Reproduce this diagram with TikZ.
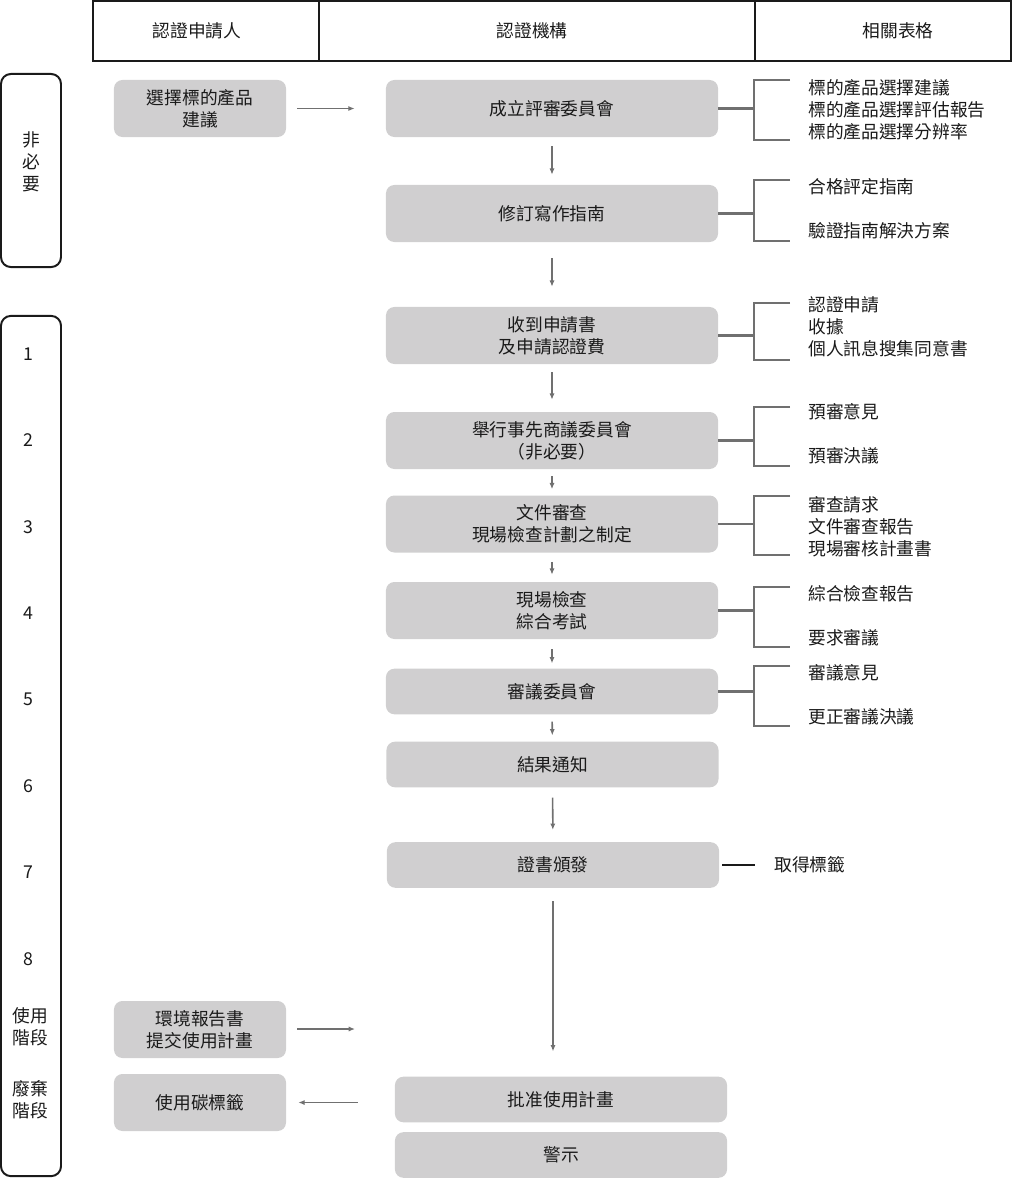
\documentclass[tikz,border=0pt]{standalone}
\usepackage{fontspec}
\setmainfont{Noto Sans CJK TC}
\usetikzlibrary{arrows.meta,positioning}
\definecolor{ChartInk}{HTML}{1A1A1A}
\definecolor{ChartBox}{HTML}{D0CFD0}
\definecolor{ChartLine}{HTML}{707070}
\tikzset{
  every node/.style={font=\fontsize{12.6}{15.6}\selectfont, text=ChartInk},
  stage/.style={fill=ChartBox, rounded corners=6pt, align=center, minimum width=8.3cm, minimum height=1.425cm, inner sep=0pt},
  stageshort/.style={stage, minimum height=1.14cm},
  party/.style={fill=ChartBox, rounded corners=6pt, align=center, minimum width=4.3cm, minimum height=1.425cm, inner sep=0pt},
  phase/.style={draw=ChartInk, line width=1.4pt, rounded corners=7pt, minimum width=1.5cm, inner sep=0pt},
  forms/.style={align=left, anchor=west, inner sep=0pt},
  flow/.style={-{Latex[length=1.6mm,width=1.3mm]}, draw=ChartLine, line width=1.1pt},
  bracket/.style={draw=ChartLine, line width=1.6pt},
  frame/.style={draw=ChartInk, line width=1.4pt},
  tag/.style={draw=ChartInk, line width=1.4pt},
}

\begin{document}
\begin{tikzpicture}[x=0.025cm,y=-0.025cm]
  \useasboundingbox (0,0) rectangle (1013,1179);
  % Header
  \draw[frame] (93,1) rectangle (1011,61);
  \draw[frame] (319,1) -- (319,61);
  \draw[frame] (755,1) -- (755,61);
  \node (hd-applicant) at (197,31) {認證申請人};
  \node (hd-agency) at (532,31) {認證機構};
  \node (hd-forms) at (898,31) {相關表格};
  % Phases
  \node[phase, minimum height=4.825cm] (ph-optional) at (31,170.5) {};
  \node[phase, minimum height=21.5cm] (ph-main) at (31,746) {};
  \node[align=center] (lb-optional) at (31,162) {非\\必\\要};
  \foreach \n in {1,...,8}
    \node (lb-\n) at ({28},{354+86.4*(\n-1)}) {\n};
  \node[align=center] (lb-use) at (30,1027) {使用\\階段};
  \node[align=center] (lb-dispose) at (30,1100) {廢棄\\階段};
  % Applicant
  \node[party] (a-propose) at (200,108.5) {選擇標的產品\\建議};
  \node[party] (a-report) at (200,1029.5) {環境報告書\\提交使用計畫};
  \node[party] (a-label) at (200,1102.5) {使用碳標籤};
  % Agency
  \node[stage] (b-commit) at (552,108.5) {成立評審委員會};
  \node[stage] (b-guide) at (552,213.5) {修訂寫作指南};
  \node[stage] (b-receive) at (552,335.5) {收到申請書\\及申請認證費};
  \node[stage] (b-prior) at (552,440.5) {舉行事先商議委員會\\（非必要）};
  \node[stage] (b-docs) at (552,524) {文件審查\\現場檢查計劃之制定};
  \node[stage] (b-site) at (552,610.5) {現場檢查\\綜合考試};
  \node[stageshort] (b-review) at (552,691.5) {審議委員會};
  \node[stageshort] (b-notify) at (552.5,764.5) {結果通知};
  \node[stageshort] (b-issue) at (553,865) {證書頒發};
  \node[stageshort] (b-approve) at (561,1099.5) {批准使用計畫};
  \node[stageshort] (b-warn) at (561,1155) {警示};
  % Forms
  \node[forms] (f-commit) at (808,110) {標的產品選擇建議\\標的產品選擇評估報告\\標的產品選擇分辨率};
  \node[forms] (f-guide) at (808,209) {合格評定指南\\[15.6pt]驗證指南解決方案};
  \node[forms] (f-receive) at (808,327) {認證申請\\收據\\個人訊息搜集同意書};
  \node[forms] (f-prior) at (808,434) {預審意見\\[15.6pt]預審決議};
  \node[forms] (f-docs) at (808,527) {審查請求\\文件審查報告\\現場審核計畫書};
  \node[forms] (f-site) at (808,616) {綜合檢查報告\\[15.6pt]要求審議};
  \node[forms] (f-review) at (808,695) {審議意見\\[15.6pt]更正審議決議};
  \node[forms] (f-issue) at (774,865) {取得標籤};
  % Flow
  \draw[flow, shorten <=0.225cm, shorten >=0.25cm] (b-commit) -- (b-guide);
  \draw[flow, shorten <=0.4cm, shorten >=0.5cm] (b-guide) -- (b-receive);
  \draw[flow, shorten <=0.2cm, shorten >=0.3cm] (b-receive) -- (b-prior);
  \draw[flow, shorten <=0.175cm, shorten >=0.15cm] (b-prior) -- (b-docs);
  \draw[flow, shorten <=0.225cm, shorten >=0.175cm] (b-docs) -- (b-site);
  \draw[flow, shorten <=0.25cm, shorten >=0.125cm] (b-site) -- (b-review);
  \draw[flow, shorten <=0.175cm, shorten >=0.15cm] (b-review) -- (b-notify);
  \draw[flow, shorten <=0.25cm, shorten >=0.3cm] (b-notify) -- (b-issue);
  \draw[flow, shorten <=0.325cm, shorten >=0.625cm] (b-issue.south) -- (b-issue.south |- b-approve.north);
  \draw[flow, shorten <=0.275cm, shorten >=0.775cm] (a-propose) -- (b-commit);
  \coordinate (plan-in) at (355,1029);
  \draw[flow, shorten <=0.275cm] (a-report.east |- plan-in) -- (plan-in);
  \draw[flow, shorten <=0.925cm, shorten >=0.3cm] (b-approve.west |- a-label) -- (a-label.east);
  % Brackets
  \foreach \b/\t/\u in {commit/80/140, guide/180/241, receive/303/360, prior/407/466, docs/496/555, site/587/647, review/666/726}
  {
    \draw[bracket] (b-\b.east) -- ++(36,0);
    \draw[bracket] (790,\t) -- (754,\t) -- (754,\u) -- (790,\u);
  }
  \draw[tag, shorten <=0.075cm, shorten >=0.475cm] (b-issue.east) -- (f-issue.west);
\end{tikzpicture}
\end{document}
